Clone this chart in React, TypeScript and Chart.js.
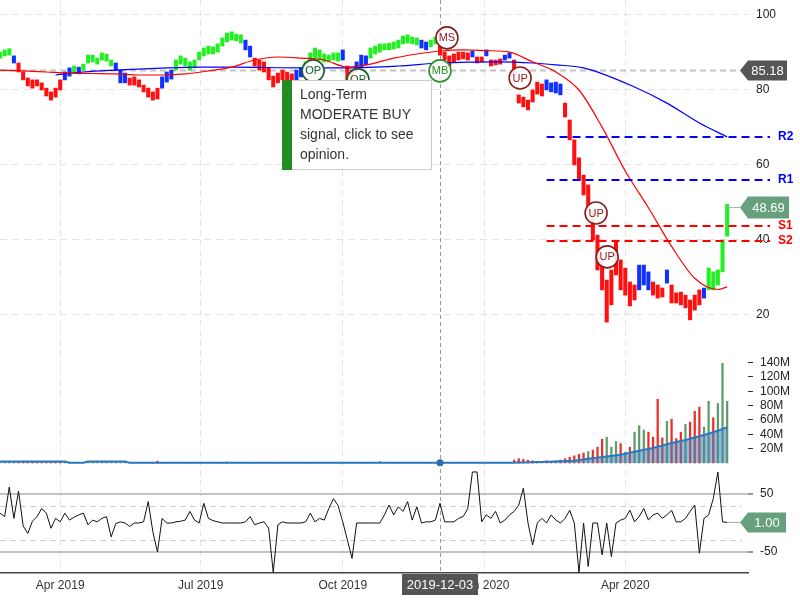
import React, { useEffect, useRef } from "react";
import { Chart, registerables } from "chart.js";

Chart.register(...registerables);

const FONT = '"Liberation Sans", Arial, Helvetica, sans-serif';

// ---- time axis (days since 2019-01-01), one bar every 3 calendar days ----
const START_DAY = 51;
const STEP = 3;
const X_MIN = 51;
const X_MAX = 535.5;
const xTickDays = [90, 181, 273, 365, 456];
const xTickLabels = ["Apr 2019", "Jul 2019", "Oct 2019", "Jan 2020", "Apr 2020"];

// ---- price bars ----
const barColor =
  "gggbrrrrrr" + "rrrrbbgbgg" + "gggggbbbrr" + "rrrrrbbbgg" + "gggggggggg" +
  "gggbbrrrrr" + "rrrrbbgggg" + "ggggbrrbbb" + "gggggggggg" + "gbbggrrrrr" +
  "rrbrrbrrrb" + "brrrrrrrbb" + "bbrrrrrrrr" + "rrrrrrrrbb" + "brrrbrrrrr" + "rrbggggg";

const hi = [
  90.1, 90.7, 91.0, 89.1, 87.2, 84.8, 83.2, 82.7, 82.7, 81.9,
  80.5, 79.5, 80.5, 82.7, 84.8, 85.9, 86.4, 86.1, 86.9, 89.3,
  89.3, 88.5, 89.9, 89.6, 88.0, 87.2, 85.3, 84.5, 83.2, 83.5,
  82.7, 81.3, 80.5, 79.5, 80.5, 83.5, 84.8, 85.3, 88.0, 89.1,
  88.5, 87.5, 88.0, 90.1, 91.2, 91.7, 91.5, 92.3, 93.9, 95.2,
  95.5, 94.9, 94.7, 93.3, 91.7, 88.5, 88.0, 87.5, 85.9, 83.7,
  84.5, 85.3, 84.8, 84.3, 85.3, 85.9, 87.5, 89.9, 91.2, 90.7,
  89.6, 89.3, 89.9, 89.9, 90.7, 86.4, 85.3, 87.5, 89.3, 89.1,
  91.2, 91.7, 92.3, 92.3, 92.5, 92.8, 93.3, 94.4, 94.7, 94.1,
  93.9, 93.3, 92.8, 93.3, 94.1, 91.7, 90.1, 89.1, 89.6, 90.1,
  90.1, 89.9, 90.4, 88.8, 88.8, 90.7, 88.0, 88.0, 88.3, 89.3,
  89.9, 88.0, 78.7, 78.1, 77.3, 80.0, 82.1, 81.6, 82.7, 81.9,
  82.1, 81.6, 76.5, 72.0, 66.7, 61.9, 57.3, 54.7, 48.0, 41.3,
  34.7, 29.3, 32.0, 39.5, 34.7, 32.5, 28.8, 28.0, 33.3, 33.3,
  31.5, 28.8, 28.0, 27.2, 32.0, 28.0, 25.9, 26.1, 25.3, 24.0,
  25.3, 26.7, 27.2, 32.5, 31.5, 32.0, 40.0, 49.5,
];
const lo = [
  88.5, 89.1, 89.3, 87.2, 84.8, 82.7, 81.1, 80.5, 81.1, 80.0,
  78.4, 77.3, 78.1, 80.0, 82.7, 83.7, 84.5, 84.3, 85.3, 87.2,
  87.5, 86.9, 88.0, 87.7, 86.4, 85.3, 81.9, 81.9, 81.3, 81.3,
  80.8, 79.5, 78.1, 77.3, 77.6, 80.5, 82.1, 82.9, 85.3, 86.9,
  86.4, 85.3, 85.9, 88.0, 89.1, 89.6, 89.6, 90.1, 91.7, 92.8,
  93.3, 93.1, 92.5, 90.7, 88.8, 86.4, 85.3, 84.8, 82.7, 80.8,
  81.9, 82.7, 82.1, 81.6, 82.7, 83.5, 84.8, 87.5, 88.5, 88.0,
  87.5, 87.5, 88.0, 87.7, 88.0, 80.8, 82.7, 84.8, 85.9, 86.7,
  88.5, 89.6, 90.1, 90.7, 90.7, 90.9, 91.2, 92.3, 92.5, 92.3,
  92.0, 91.2, 90.7, 91.5, 92.3, 89.3, 88.0, 86.4, 87.5, 88.0,
  88.3, 88.0, 88.8, 87.2, 87.5, 89.1, 86.4, 86.7, 86.9, 88.0,
  88.5, 84.0, 76.5, 75.5, 74.7, 76.8, 78.9, 78.4, 80.0, 79.5,
  79.2, 78.7, 72.8, 66.7, 60.0, 56.0, 52.0, 48.0, 40.0, 32.0,
  26.7, 18.1, 22.7, 30.7, 26.7, 25.3, 22.4, 24.0, 26.7, 28.0,
  26.7, 25.3, 24.5, 24.8, 28.5, 23.2, 23.2, 22.7, 21.9, 18.7,
  21.3, 22.7, 24.5, 26.7, 26.7, 28.0, 31.5, 41.0,
];

// ---- moving averages (sampled at bar indices) ----
const maRedIdx = [0, 5, 10, 15, 20, 25, 30, 35, 40, 45, 50, 55, 60, 65, 70, 75, 80, 85, 90, 95, 100, 105, 110, 115, 120, 125, 130, 135, 140, 145, 150, 155, 157];
const maRedVal = [85.3, 85.1, 84.8, 84.5, 84.4, 84.3, 84.0, 84.0, 84.3, 85.1, 86.1, 88.0, 88.8, 88.5, 88.0, 86.1, 86.9, 88.5, 89.6, 90.4, 90.7, 90.5, 90.1, 87.5, 84.8, 80.0, 70.1, 58.4, 48.6, 38.3, 29.8, 26.8, 27.5];
const maBlueIdx = [12, 18, 25, 36, 43, 50, 65, 75, 86, 95, 108, 115, 120, 126, 137, 144, 151, 157];
const maBlueVal = [84.0, 84.8, 85.3, 85.9, 86.1, 86.1, 85.9, 85.9, 86.4, 87.2, 87.5, 87.2, 86.7, 85.9, 80.8, 76.5, 71.2, 67.5];

// ---- volume (millions) ----
const volDir =
  "ggggrrrrrr" + "rrrrgggggg" + "ggggggggrr" + "rrrrrggggg" + "gggggggggg" +
  "ggggrrrrrr" + "rrrrgggggg" + "ggggrrgggg" + "gggggggggg" + "gggggrrrrr" +
  "rrgrrgrrrg" + "grrrrrggrr" + "grrrrrrgrr" + "rgggrgrggg" + "rrrrgrrrgr" + "rrggrggg";
const volume = [
  0.8, 1.0, 0.6, 0.9, 1.2, 1.5, 0.8, 2.2, 0.9, 1.0,
  0.7, 0.8, 1.0, 0.6, 0.8, 0.5, 0.6, 0.7, 0.5, 0.6,
  0.6, 0.7, 0.5, 0.6, 0.5, 0.8, 0.6, 0.5, 0.7, 0.6,
  0.5, 0.6, 0.7, 0.5, 2.6, 0.6, 0.5, 0.6, 0.5, 0.6,
  0.5, 0.6, 0.5, 0.6, 0.7, 0.5, 0.6, 0.5, 0.6, 1.6,
  0.6, 0.5, 0.6, 0.5, 0.6, 0.5, 0.6, 0.5, 0.6, 0.5,
  0.6, 0.5, 0.6, 0.5, 0.6, 0.5, 0.6, 0.5, 0.6, 0.5,
  0.6, 0.5, 0.6, 0.5, 0.6, 0.7, 0.6, 0.5, 0.6, 0.5,
  0.6, 0.7, 2.0, 0.6, 0.5, 0.6, 0.5, 0.6, 0.5, 0.6,
  0.5, 0.6, 0.5, 0.6, 0.5, 0.6, 0.5, 0.6, 0.5, 0.6,
  0.5, 0.6, 0.5, 0.6, 0.5, 0.6, 0.5, 0.6, 0.5, 0.6,
  0.7, 4, 6, 5, 4, 3, 2, 2, 3, 2,
  3, 4, 6, 8, 10, 12, 14, 16, 18, 22,
  33, 36, 22, 30, 27, 15, 22, 43, 52, 46,
  43, 36, 89, 35, 58, 61, 34, 43, 54, 57,
  72, 78, 50, 86, 63, 83, 139, 86,
];
const volMaIdx = [0, 14, 15, 18, 19, 27, 28, 110, 115, 120, 124, 127, 131, 134, 138, 141, 145, 148, 152, 155, 157];
const volMaVal = [2, 2, 0.5, 0.5, 2, 2, 0.5, 0.5, 1.2, 2, 3, 6, 9, 11.6, 17, 21, 28, 32, 39, 45, 50];

// ---- oscillator ----
const osc = [
  17, 11, 62, 8, 55, -5, -18, 3, 11, 25,
  17, -9, 8, 2, 17, 5, 10, 14, 17, -3,
  5, 2, 8, 11, -24, -1, 2, 0, -6, 0,
  0, 2, 37, -15, -50, 8, 0, 0, 2, 3,
  5, 20, 5, 0, 34, 8, 4, 2, 0, 0,
  0, 0, 0, 2, 11, -3, 0, 2, -9, -85,
  -3, 2, 0, 0, 0, 0, 2, 17, 2, 8,
  5, 25, 42, 30, 2, -29, -61, 0, 0, 0,
  0, 0, 0, 14, 31, 14, 28, 20, 37, 5,
  28, 0, 2, 2, 5, 34, 2, 2, 2, 8,
  11, 25, 88, 88, 2, 14, 8, 20, 0, 5,
  14, 20, 31, 60, 0, -38, 0, 8, 0, 14,
  5, 0, 8, 22, 0, -85, 0, -75, 0, 0,
  -55, 0, -58, 0, 5, 8, 22, 2, 11, 25,
  5, 14, 17, 8, 14, 22, 2, 2, 8, 20,
  31, -52, 8, 14, 42, 88, 2, 1,
];

// ---- axis ticks ----
const priceTicks = [20, 40, 60, 80, 100];
const volTicks = [20, 40, 60, 80, 100, 120, 140];
const oscTicks = [-50, 50];
const oscDashLevels = [-30, 30];

// ---- support / resistance ----
const levelNames = ["R2", "R1", "S1", "S2"];
const levelValues = [67.5, 56.0, 43.7, 39.7];
const levelColors = ["#0000ff", "#0000ff", "#ff0000", "#ff0000"];
const levelStartIdx = 118;

// ---- signal markers ----
const markerText = ["OP", "OP", "MS", "MB", "UP", "UP", "UP"];
const markerIdx = [67.6, 77.3, 96.5, 95.0, 112.3, 128.7, 131.1];
const markerPrice = [85.1, 82.7, 93.9, 85.1, 83.2, 47.2, 35.5];
const markerColor = ["#1d5b2a", "#1d5b2a", "#8b1c1c", "#2a8f2a", "#8b1c1c", "#8b1c1c", "#8b1c1c"];

// ---- crosshair / labels ----
const crossDay = 336;
const crossDate = "2019-12-03";
const crossPrice = 85.18;
const crossVol = 0.5;
const lastPrice = 48.69;
const lastOsc = 1.0;
const tipLines = ["Long-Term", "MODERATE BUY", "signal, click to see", "opinion."];

const dayOf = (i: number) => START_DAY + STEP * i;
const cmap: Record<string, string> = { r: "#ff1010", g: "#22f022", b: "#1030ff" };
const vmap: Record<string, string> = { r: "#e8302a", g: "#5c9c6e" };

function tag(ctx: CanvasRenderingContext2D, tipX: number, y: number, w: number, h: number, color: string, text: string) {
  ctx.beginPath();
  ctx.moveTo(tipX, y);
  ctx.lineTo(tipX + 8, y - h / 2);
  ctx.lineTo(tipX + 8 + w, y - h / 2);
  ctx.lineTo(tipX + 8 + w, y + h / 2);
  ctx.lineTo(tipX + 8, y + h / 2);
  ctx.closePath();
  ctx.fillStyle = color;
  ctx.fill();
  ctx.fillStyle = "#fff";
  ctx.font = "13px " + FONT;
  ctx.textAlign = "center";
  ctx.textBaseline = "middle";
  ctx.fillText(text, tipX + 8 + w / 2, y + 1);
}

const noPad = (s: any) => {
  s.paddingTop = 0;
  s.paddingBottom = 0;
  s.paddingLeft = 0;
  s.paddingRight = 0;
};

const overlay = {
  id: "overlay",
  beforeDatasetsDraw(chart: any) {
    const { ctx, chartArea, scales } = chart;
    const x = scales.x, yP = scales.yP, yO = scales.yO;
    ctx.save();
    ctx.lineWidth = 1;
    ctx.strokeStyle = "#d0d0d0";
    ctx.setLineDash([6, 4]);
    for (const v of oscDashLevels) {
      const y = Math.round(yO.getPixelForValue(v)) + 0.5;
      ctx.beginPath();
      ctx.moveTo(chartArea.left, y);
      ctx.lineTo(chartArea.right - 6, y);
      ctx.stroke();
    }
    // crosshair horizontal
    ctx.strokeStyle = "#c4c4c4";
    ctx.lineWidth = 2;
    ctx.setLineDash([6, 4]);
    const hy = yP.getPixelForValue(crossPrice);
    ctx.beginPath();
    ctx.moveTo(chartArea.left, hy);
    ctx.lineTo(chartArea.right - 8, hy);
    ctx.stroke();
    // crosshair vertical
    const cx = Math.round(x.getPixelForValue(crossDay)) + 0.5;
    ctx.strokeStyle = "#9a9a9a";
    ctx.lineWidth = 1;
    ctx.setLineDash([4, 3]);
    ctx.beginPath();
    ctx.moveTo(cx, chartArea.top);
    ctx.lineTo(cx, chartArea.bottom);
    ctx.stroke();
    ctx.restore();
  },
  afterDatasetsDraw(chart: any) {
    const { ctx, chartArea, scales } = chart;
    const x = scales.x, yP = scales.yP, yV = scales.yV, yO = scales.yO;
    ctx.save();
    // support / resistance
    const sx = x.getPixelForValue(dayOf(levelStartIdx));
    levelValues.forEach((v, k) => {
      const y = Math.round(yP.getPixelForValue(v));
      ctx.strokeStyle = levelColors[k];
      ctx.lineWidth = 2;
      ctx.setLineDash([8, 5]);
      ctx.beginPath();
      ctx.moveTo(sx, y);
      ctx.lineTo(chartArea.right + 22, y);
      ctx.stroke();
      ctx.setLineDash([]);
      ctx.fillStyle = levelColors[k];
      ctx.font = "bold 12px " + FONT;
      ctx.textAlign = "left";
      ctx.textBaseline = "middle";
      ctx.fillText(levelNames[k], chartArea.right + 30, y);
    });
    ctx.setLineDash([]);
    // markers
    markerText.forEach((t, k) => {
      const mx = x.getPixelForValue(dayOf(markerIdx[k]));
      const my = yP.getPixelForValue(markerPrice[k]);
      ctx.beginPath();
      ctx.arc(mx, my, 11, 0, Math.PI * 2);
      ctx.fillStyle = "rgba(255,255,255,0.9)";
      ctx.fill();
      ctx.lineWidth = 1.6;
      ctx.strokeStyle = markerColor[k];
      ctx.stroke();
      ctx.fillStyle = markerColor[k];
      ctx.font = "11px " + FONT;
      ctx.textAlign = "center";
      ctx.textBaseline = "middle";
      ctx.fillText(t, mx, my + 0.5);
    });
    // crosshair dot on volume
    const cx = x.getPixelForValue(crossDay);
    ctx.beginPath();
    ctx.arc(cx, yV.getPixelForValue(crossVol), 3.5, 0, Math.PI * 2);
    ctx.fillStyle = "#2a6fb0";
    ctx.fill();
    // tooltip box
    const bx = 282, by = 80, bw = 150, bh = 90;
    ctx.fillStyle = "#ffffff";
    ctx.fillRect(bx, by, bw, bh);
    ctx.strokeStyle = "#cccccc";
    ctx.lineWidth = 1;
    ctx.strokeRect(bx + 0.5, by + 0.5, bw - 1, bh - 1);
    ctx.fillStyle = "#228b22";
    ctx.fillRect(bx, by, 10, bh);
    ctx.fillStyle = "#333";
    ctx.font = "14px " + FONT;
    ctx.textAlign = "left";
    ctx.textBaseline = "middle";
    tipLines.forEach((t, k) => ctx.fillText(t, bx + 18, by + 15 + k * 20));
    // value tags
    const tipX = chartArea.right - 8;
    tag(ctx, tipX, yP.getPixelForValue(crossPrice), 39, 20, "#555555", crossPrice.toFixed(2));
    const lpY = yP.getPixelForValue(lastPrice);
    const lastX = x.getPixelForValue(dayOf(hi.length - 1));
    ctx.strokeStyle = "#aaaaaa";
    ctx.lineWidth = 1;
    ctx.beginPath();
    ctx.moveTo(lastX, lpY);
    ctx.lineTo(tipX, lpY);
    ctx.stroke();
    tag(ctx, tipX, lpY, 41, 22, "#66a07c", lastPrice.toFixed(2));
    const loY = yO.getPixelForValue(lastOsc);
    ctx.strokeStyle = "#aaaaaa";
    ctx.beginPath();
    ctx.moveTo(lastX, loY);
    ctx.lineTo(tipX, loY);
    ctx.stroke();
    tag(ctx, tipX, loY, 38, 20, "#66a07c", lastOsc.toFixed(2));
    // date label on x axis
    ctx.fillStyle = "#555555";
    ctx.fillRect(cx - 38, chartArea.bottom + 1, 76, 21);
    ctx.fillStyle = "#fff";
    ctx.font = "13px " + FONT;
    ctx.textAlign = "center";
    ctx.textBaseline = "middle";
    ctx.fillText(crossDate, cx, chartArea.bottom + 12);
    ctx.restore();
  },
};

export default function App() {
  const ref = useRef<HTMLCanvasElement>(null);
  useEffect(() => {
    if (!ref.current) return;
    Chart.defaults.font.family = FONT;
    Chart.defaults.font.size = 12;
    Chart.defaults.color = "#222";

    const priceData = hi.map((h, i) => ({ x: dayOf(i), y: [lo[i], h] }));
    const volData = volume.map((v, i) => ({ x: dayOf(i), y: v }));
    const oscData = osc.map((v, i) => ({ x: dayOf(i), y: v }));

    const chart = new Chart(ref.current, {
      type: "bar",
      data: {
        datasets: [
          {
            type: "line",
            data: maRedIdx.map((k, j) => ({ x: dayOf(k), y: maRedVal[j] })),
            yAxisID: "yP",
            borderColor: "#ff0000",
            borderWidth: 1.2,
            pointRadius: 0,
            cubicInterpolationMode: "monotone",
            order: 1,
          },
          {
            type: "line",
            data: maBlueIdx.map((k, j) => ({ x: dayOf(k), y: maBlueVal[j] })),
            yAxisID: "yP",
            borderColor: "#0000ff",
            borderWidth: 1.2,
            pointRadius: 0,
            cubicInterpolationMode: "monotone",
            order: 2,
          },
          {
            type: "bar",
            data: priceData,
            yAxisID: "yP",
            backgroundColor: barColor.split("").map((c) => cmap[c]),
            barThickness: 3.4,
            grouped: false,
            order: 3,
          },
          {
            type: "line",
            data: volMaIdx.map((k, j) => ({ x: dayOf(k), y: volMaVal[j] })),
            yAxisID: "yV",
            borderColor: "#2a78c0",
            borderWidth: 2,
            backgroundColor: "rgba(70,130,180,0.55)",
            fill: "origin",
            pointRadius: 0,
            tension: 0,
            order: 4,
          },
          {
            type: "bar",
            data: volData,
            yAxisID: "yV",
            backgroundColor: volDir.split("").map((c) => vmap[c]),
            barThickness: 1.6,
            grouped: false,
            order: 5,
          },
          {
            type: "line",
            data: oscData,
            yAxisID: "yO",
            borderColor: "#111",
            borderWidth: 1,
            pointRadius: 0,
            tension: 0,
            order: 6,
          },
        ],
      } as any,
      options: {
        responsive: false,
        animation: false,
        events: [],
        layout: { padding: 0 },
        plugins: { legend: { display: false }, tooltip: { enabled: false } },
        scales: {
          x: {
            type: "linear",
            min: X_MIN,
            max: X_MAX,
            offset: false,
            afterBuildTicks: (s: any) => {
              s.ticks = xTickDays.map((v) => ({ value: v }));
            },
            afterFit: (s: any) => {
              s.height = 27;
              noPad(s);
            },
            grid: { color: "#e4e4e4", drawTicks: false, offset: false },
            border: { display: true, color: "#444", width: 1.5, dash: [6, 4] },
            ticks: {
              autoSkip: false,
              maxRotation: 0,
              padding: 5,
              color: "#333",
              font: { size: 12 },
              callback: (v: any) => xTickLabels[xTickDays.indexOf(Number(v))] ?? "",
            },
          },
          yP: {
            type: "linear",
            position: "right",
            stack: "panels",
            stackWeight: 340,
            min: 13.33,
            max: 104,
            afterBuildTicks: (s: any) => {
              s.ticks = priceTicks.map((v) => ({ value: v }));
            },
            afterFit: (s: any) => {
              s.width = 52;
              noPad(s);
            },
            grid: { color: "#e2e2e2", drawTicks: false },
            border: { display: false, dash: [7, 5] },
            ticks: { autoSkip: false, padding: 8, color: "#222", font: { size: 12 } },
          },
          yV: {
            type: "linear",
            position: "right",
            stack: "panels",
            stackWeight: 125,
            min: -2.8,
            max: 171.5,
            afterBuildTicks: (s: any) => {
              s.ticks = volTicks.map((v) => ({ value: v }));
            },
            afterFit: (s: any) => {
              s.width = 52;
              noPad(s);
            },
            grid: { drawOnChartArea: false, tickLength: 5, tickColor: "#333" },
            border: { display: false },
            ticks: { autoSkip: false, padding: 7, color: "#222", font: { size: 12 }, callback: (v: any) => v + "M" },
          },
          yO: {
            type: "linear",
            position: "right",
            stack: "panels",
            stackWeight: 108,
            min: -86.2,
            max: 100,
            afterBuildTicks: (s: any) => {
              s.ticks = oscTicks.map((v) => ({ value: v }));
            },
            afterFit: (s: any) => {
              s.width = 52;
              noPad(s);
            },
            grid: { color: "#c2c2c2", lineWidth: 2, tickLength: 5, tickColor: "#333", tickWidth: 1 },
            border: { display: false },
            ticks: { autoSkip: false, padding: 7, color: "#222", font: { size: 12 } },
          },
        },
      } as any,
      plugins: [overlay],
    });
    return () => chart.destroy();
  }, []);

  return (
    <div style={{ position: "absolute", left: 0, top: 0, width: 800, height: 600, background: "#fff" }}>
      <canvas ref={ref} width={800} height={600} style={{ display: "block", width: 800, height: 600 }} />
    </div>
  );
}
